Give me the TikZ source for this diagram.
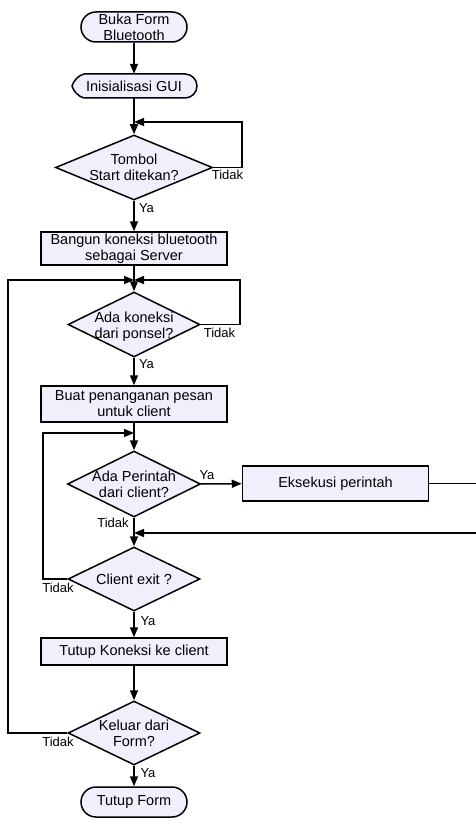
\documentclass[tikz,border=0pt]{standalone}
\usepackage{fontspec}
\setmainfont{Liberation Sans}
\usetikzlibrary{shapes.geometric,arrows.meta}
\definecolor{fillc}{RGB}{240,240,252}
\begin{document}
\begin{tikzpicture}[x=1pt,y=-1pt,
  every node/.style={font=\fontsize{14.5}{16}\selectfont},
  box/.style={draw,line width=1.5pt,fill=fillc,minimum width=186pt,inner sep=0pt,align=center},
  term/.style={draw,line width=1.5pt,fill=fillc,rounded corners=15pt,minimum width=106pt,minimum height=30pt,align=center,inner sep=0pt},
  dia/.style={draw,diamond,line width=1.5pt,fill=fillc,inner sep=0pt},
  txt/.style={align=center,inner sep=0pt},
  lbl/.style={font=\fontsize{13}{15}\selectfont,inner sep=0pt},
  arr/.style={line width=1.5pt,-{Triangle[length=10pt,width=8pt]}},
  ln/.style={line width=1.5pt}]
\useasboundingbox (0,0) rectangle (476,824);

% start
\node[term] (start) at (134,27) {Buka Form\\Bluetooth};

% display shape
\draw[line width=1.5pt,fill=fillc] (84,74) -- (185,74) arc[start angle=90,end angle=-90,radius=12pt]
  -- (84,98) .. controls (78,96.5) and (73.5,91) .. (72,86) .. controls (73.5,81) and (78,75.5) .. (84,74) -- cycle;
\node[txt,minimum width=125pt,minimum height=24pt] (gui) at (134,86) {Inisialisasi GUI};

% decision 1
\node[dia,minimum width=157pt,minimum height=65pt] (d1) at (134,167.5) {};
\node[txt] (d1t) at (134,167.5) {Tombol\\Start ditekan?};

\node[box,minimum height=33pt] (b1) at (134,248.5) {Bangun koneksi bluetooth\\sebagai Server};

\node[dia,minimum width=132pt,minimum height=65pt] (d2) at (134,324.5) {};
\node[txt] (d2t) at (134,327) {Ada koneksi\\dari ponsel?};

\node[box,minimum height=36pt] (b2) at (134,404) {Buat penanganan pesan\\untuk client};

\node[dia,minimum width=133pt,minimum height=66pt] (d3) at (134,484) {};
\node[txt] (d3t) at (134,484) {Ada Perintah\\dari client?};

\node[box,minimum height=35pt] (eks) at (335.5,483.5) {Eksekusi perintah};

\node[dia,minimum width=132pt,minimum height=64pt] (d4) at (134,579) {};
\node[txt] (d4t) at (134,579) {Client exit ?};

\node[box,minimum height=27pt] (b3) at (134,651.5) {Tutup Koneksi ke client};

\node[dia,minimum width=132pt,minimum height=64pt] (d5) at (134,733) {};
\node[txt] (d5t) at (134,733) {Keluar dari\\Form?};

\node[term] (end) at (134,802) {Tutup Form};

% junction coordinates
\coordinate (j1) at (134,122);
\coordinate (c1) at (242,122);
\coordinate (j2) at (134,280);
\coordinate (c2) at (240,280);
\coordinate (c5) at (8,280);
\coordinate (j3) at (134,433);
\coordinate (c4) at (43,433);
\coordinate (j4) at (134,533);
\coordinate (c3a) at (480,483.5);
\coordinate (c3b) at (480,533);

% main flow
\draw[arr] (start) -- (gui);
\draw[arr] (gui) -- (d1);
\draw[arr] (d1) -- (b1);
\draw[arr] (b1) -- (d2);
\draw[arr] (d2) -- (b2);
\draw[arr] (b2) -- (d3);
\draw[arr] (d3) -- (d4);
\draw[arr] (d3) -- (eks);
\draw[arr] (d4) -- (b3);
\draw[arr] (b3) -- (d5);
\draw[arr] (d5) -- (end);

% loops
\draw[arr] (d1.east) -| (c1) -- (j1);
\draw[arr] (d2.east) -| (c2) -- (j2);
\draw[arr] (d5.west) -| (c5) -- (j2);
\draw[arr] (d4.west) -| (c4) -- (j3);
\draw[arr] (eks.east) -- (c3a) -- (c3b) -- (j4);

% labels
\node[lbl] (t1) at (227.5,175) {Tidak};
\node[lbl] (y1) at (146.5,208) {Ya};
\node[lbl] (t2) at (219.5,333) {Tidak};
\node[lbl] (y2) at (146.5,364) {Ya};
\node[lbl] (y3) at (207,475) {Ya};
\node[lbl] (t3) at (113,523) {Tidak};
\node[lbl] (t4) at (58,588) {Tidak};
\node[lbl] (y4) at (148,621) {Ya};
\node[lbl] (t5) at (58,742) {Tidak};
\node[lbl] (y5) at (148,773) {Ya};
\end{tikzpicture}
\end{document}
